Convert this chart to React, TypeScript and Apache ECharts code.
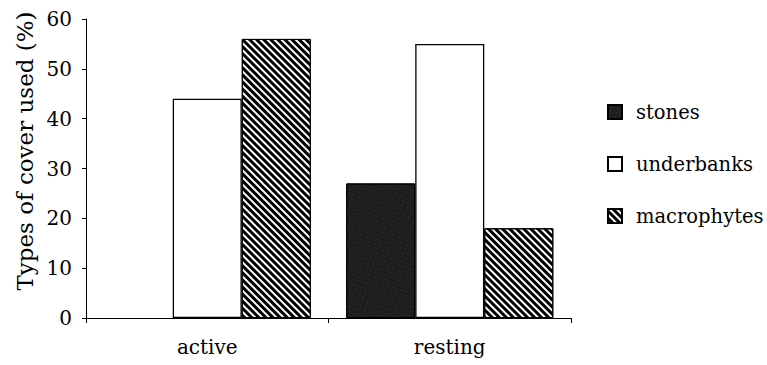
import React, { useEffect, useRef } from "react";
import * as echarts from "echarts";

const categories = ["active", "resting"];
const seriesNames = ["stones", "underbanks", "macrophytes"];
const stonesValues = [0, 27];
const underbanksValues = [44, 55];
const macrophytesValues = [56, 18];
const yTicks = { min: 0, max: 60, interval: 10 };
const yAxisTitle = "Types of cover used (%)";

const FONT = "DejaVu Serif";

export default function App() {
  const ref = useRef<HTMLDivElement>(null);
  useEffect(() => {
    if (!ref.current) return;
    const chart = echarts.init(ref.current, undefined, { renderer: "svg" });
    const stonesStyle = {
      color: "#1e1e1e",
      borderColor: "#000",
      borderWidth: 1,
      decal: {
        symbol: "rect",
        symbolSize: 0.6,
        color: "#7a7a7a",
        dashArrayX: [[1, 3, 1, 5]],
        dashArrayY: [1, 4, 1, 3],
        rotation: 0.3,
      },
    };
    const underStyle = { color: "#ffffff", borderColor: "#000", borderWidth: 1.3 };
    const macroStyle = {
      color: "#ffffff",
      borderColor: "#000",
      borderWidth: 1,
      decal: {
        symbol: "rect",
        symbolSize: 1,
        color: "#000000",
        dashArrayX: [1, 0],
        dashArrayY: [2.2, 1.8],
        rotation: Math.PI / 4,
      },
    };
    const withZeroHidden = (vals: number[]) =>
      vals.map((v) => (v === 0 ? { value: v, itemStyle: { borderWidth: 0 } } : v));
    chart.setOption({
      animation: false,
      backgroundColor: "#ffffff",
      textStyle: { fontFamily: FONT },
      grid: { left: 86, right: 196, top: 19, bottom: 47 },
      legend: {
        orient: "vertical",
        left: 607,
        top: 102,
        padding: 0,
        icon: "rect",
        itemWidth: 14,
        itemHeight: 14,
        itemGap: 32,
        data: seriesNames,
        textStyle: { fontFamily: FONT, fontSize: 19.5, color: "#000", lineHeight: 20, padding: [0, 0, 0, 9] },
        itemStyle: { decal: "inherit" },
      },
      xAxis: {
        type: "category",
        data: categories,
        axisLine: { lineStyle: { color: "#000", width: 1 } },
        axisTick: { show: true, length: 5, lineStyle: { color: "#000" } },
        axisLabel: { fontFamily: FONT, fontSize: 20, color: "#000", margin: 19 },
      },
      yAxis: {
        type: "value",
        min: yTicks.min,
        max: yTicks.max,
        interval: yTicks.interval,
        axisLine: { show: true, lineStyle: { color: "#000", width: 1 } },
        axisTick: { show: true, length: 4, lineStyle: { color: "#000" } },
        splitLine: { show: false },
        axisLabel: { fontFamily: FONT, fontSize: 20, color: "#000", margin: 14 },
      },
      graphic: [
        {
          type: "text",
          x: 25,
          y: 151,
          rotation: Math.PI / 2,
          style: {
            text: yAxisTitle,
            fontFamily: FONT,
            fontSize: 23,
            fill: "#000",
            align: "center",
            verticalAlign: "middle",
          },
        },
      ],
      series: [
        { name: seriesNames[0], type: "bar", data: withZeroHidden(stonesValues), barGap: "0%", barCategoryGap: "14.6%", itemStyle: stonesStyle },
        { name: seriesNames[1], type: "bar", data: underbanksValues, barGap: "0%", barCategoryGap: "14.6%", itemStyle: underStyle },
        { name: seriesNames[2], type: "bar", data: macrophytesValues, barGap: "0%", barCategoryGap: "14.6%", itemStyle: macroStyle },
      ],
    });
    return () => chart.dispose();
  }, []);
  return <div ref={ref} style={{ width: 767, height: 365, position: "absolute", left: 0, top: 0 }} />;
}
